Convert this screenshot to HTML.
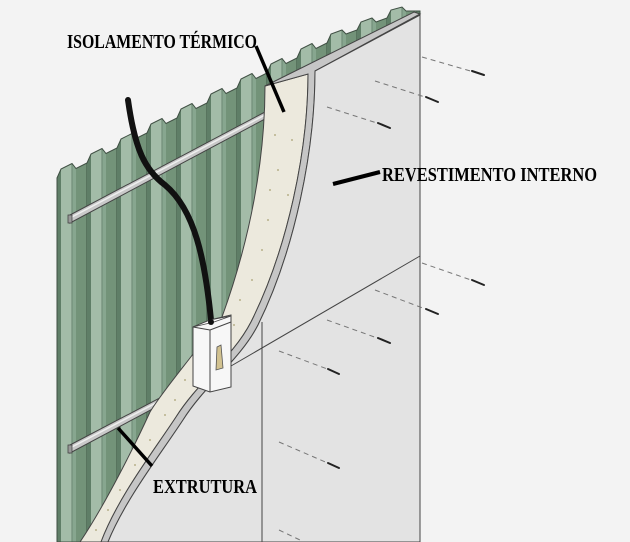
<!DOCTYPE html>
<html><head><meta charset="utf-8"><style>
html,body{margin:0;padding:0;background:#f3f3f3}
svg{display:block}
text{font-family:"Liberation Serif",serif;font-weight:bold;font-size:20px;fill:#000}
</style></head><body>
<svg width="630" height="542" viewBox="0 0 630 542" xmlns="http://www.w3.org/2000/svg">
<defs>
<pattern id="g" patternUnits="userSpaceOnUse" x="57" y="0" width="30" height="600">
<rect x="0" y="0" width="30" height="600" fill="#6f8f77"/>
<rect x="0" y="0" width="4" height="600" fill="#5f7e67"/>
<rect x="4" y="0" width="11" height="600" fill="#a3bca8"/>
<rect x="15" y="0" width="4" height="600" fill="#87a68f"/>
<rect x="19" y="0" width="11" height="600" fill="#739379"/>
<rect x="29.3" y="0" width="0.7" height="600" fill="#4c6652"/>
<rect x="14.6" y="0" width="0.7" height="600" fill="#5b7762"/>
</pattern>
</defs>
<rect width="630" height="542" fill="#f3f3f3"/>
<polygon fill="url(#g)" stroke="#3f4f43" stroke-width="1" points="57,178 61,169 72,163.5 76,168.5 87,163 91,154 102,148.5 106,153.5 117,148 121,139 132,133.5 136,138.5 147,133 151,124 162,118.5 166,123.5 177,118 181,109 192,103.5 196,108.5 207,103 211,94 222,88.5 226,93.5 237,88 241,79 252,73.5 256,78.5 267,73 271,64 282,58.5 286,63.5 297,58 301,49 312,43.5 316,48.5 327,43 331,34 342,30 346,34 357,30 361,22 372,18 376,22 387,18 391,10 402,7 406,11 420,11 420,542 57,542"/>
<polygon points="70,215 265,112 265,119 70,223" fill="#c9c9c9" stroke="#444" stroke-width="1"/>
<line x1="70" y1="218" x2="265" y2="115" stroke="#eee" stroke-width="1.5"/>
<rect x="68" y="215" width="4" height="8" fill="#999" stroke="#444" stroke-width="0.8"/>
<polygon points="70,445 175,390 175,397 70,453" fill="#c9c9c9" stroke="#444" stroke-width="1"/>
<line x1="70" y1="448" x2="175" y2="393" stroke="#eee" stroke-width="1.5"/>
<rect x="68" y="445" width="4" height="8" fill="#999" stroke="#444" stroke-width="0.8"/>
<path d="M128,100 C135,150 145,170 165,185 C195,210 205,260 211,320" fill="none" stroke="#111" stroke-width="6" stroke-linecap="round"/>
<!-- insulation -->
<path d="M265,86 C265,160 250,240 222,317 L200,345 C185,365 160,395 150,412 C135,445 105,505 80,542 L101,542 C118,497 153,452 176,417 C198,382 233,357 251,322 C288,248 308,150 308,74 Z" fill="#ece9dd" stroke="#444" stroke-width="1"/>
<g fill="#b8b08a">
<circle cx="282" cy="110" r="1"/><circle cx="292" cy="140" r="1"/><circle cx="278" cy="170" r="1"/><circle cx="288" cy="195" r="1"/><circle cx="268" cy="220" r="1"/><circle cx="262" cy="250" r="1"/><circle cx="252" cy="280" r="1"/><circle cx="240" cy="300" r="1"/><circle cx="234" cy="325" r="1"/><circle cx="185" cy="380" r="1"/><circle cx="175" cy="400" r="1"/><circle cx="165" cy="415" r="1"/><circle cx="150" cy="440" r="1"/><circle cx="135" cy="465" r="1"/><circle cx="120" cy="490" r="1"/><circle cx="108" cy="510" r="1"/><circle cx="96" cy="530" r="1"/><circle cx="275" cy="135" r="1"/><circle cx="270" cy="190" r="1"/>
</g>
<!-- board edge strip -->
<path d="M265,86 L414,12 L420,14 L315,71 C315,150 295,250 258,325 C240,360 205,385 183,420 C160,455 125,500 108,542 L101,542 C118,497 153,452 176,417 C198,382 233,357 251,322 C288,248 308,150 308,74 Z" fill="#c6c6c6" stroke="#444" stroke-width="1"/>
<!-- board -->
<path d="M315,71 L420,15 L420,542 L108,542 C125,500 160,455 183,420 C205,385 240,360 258,325 C295,250 315,150 315,71 Z" fill="#e3e3e3" stroke="#444" stroke-width="1"/>
<line x1="420" y1="256" x2="231" y2="366" stroke="#444" stroke-width="1"/>
<line x1="262" y1="322" x2="262" y2="542" stroke="#444" stroke-width="1"/>
<!-- box -->
<polygon points="193,327 210,320 231,315 231,387 210,392 193,386" fill="#f7f7f7" stroke="#444" stroke-width="1"/>
<polygon points="193,327 214,322 231,316 210,320" fill="#fff" stroke="#444" stroke-width="0.8"/>
<line x1="210" y1="330" x2="210" y2="392" stroke="#444" stroke-width="1"/>
<line x1="193" y1="327" x2="210" y2="330" stroke="#444" stroke-width="1"/>
<line x1="210" y1="330" x2="231" y2="322" stroke="#444" stroke-width="1"/>
<polygon points="217,347 221,345 223,368 216,370" fill="#d2c290" stroke="#555" stroke-width="0.8"/>
<circle cx="211" cy="322" r="3" fill="#111"/>
<!-- nails -->
<g stroke="#777" stroke-width="1" stroke-dasharray="5,4" fill="none">
<line x1="422" y1="57" x2="474" y2="72"/><line x1="375" y1="81" x2="428" y2="98"/><line x1="327" y1="107" x2="380" y2="124"/>
<line x1="422" y1="263" x2="474" y2="281"/><line x1="375" y1="290" x2="428" y2="310"/><line x1="327" y1="320" x2="380" y2="339"/>
<line x1="279" y1="351" x2="330" y2="370"/><line x1="279" y1="442" x2="330" y2="464"/><line x1="279" y1="530" x2="300" y2="540"/>
</g>
<g stroke="#222" stroke-width="2" stroke-linecap="round">
<line x1="472" y1="71" x2="484" y2="75"/><line x1="426" y1="97" x2="438" y2="102"/><line x1="378" y1="123" x2="390" y2="128"/>
<line x1="472" y1="280" x2="484" y2="285"/><line x1="426" y1="309" x2="438" y2="314"/><line x1="378" y1="338" x2="390" y2="343"/>
<line x1="328" y1="369" x2="339" y2="374"/><line x1="328" y1="463" x2="339" y2="468"/>
</g>
<!-- labels -->
<line x1="256" y1="46" x2="284" y2="112" stroke="#000" stroke-width="3.5"/>
<line x1="380" y1="172" x2="333" y2="184" stroke="#000" stroke-width="4"/>
<line x1="118" y1="428" x2="152" y2="466" stroke="#000" stroke-width="3.5"/>
<text x="67" y="48" textLength="190" lengthAdjust="spacingAndGlyphs">ISOLAMENTO TÉRMICO</text>
<text x="382" y="181" textLength="215" lengthAdjust="spacingAndGlyphs">REVESTIMENTO INTERNO</text>
<text x="153" y="493" textLength="104" lengthAdjust="spacingAndGlyphs">EXTRUTURA</text>
</svg>
</body></html>
